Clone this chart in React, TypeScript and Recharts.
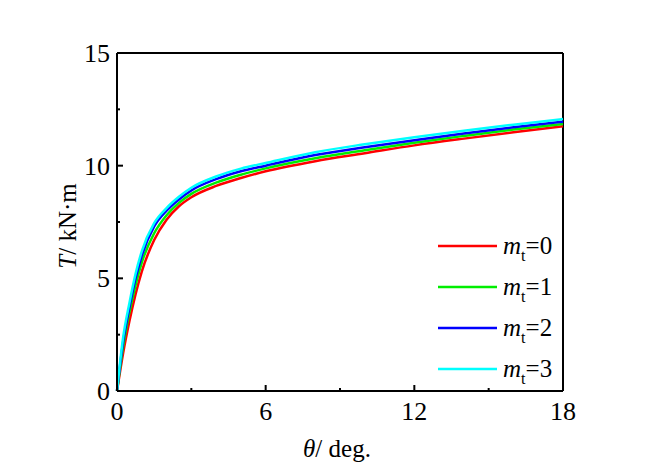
import React from 'react';
import { LineChart, Line, XAxis, YAxis, ReferenceLine, Customized } from 'recharts';

const theta = [0, 0.25, 0.5, 0.75, 1, 1.5, 2, 2.5, 3, 4, 5, 6, 8, 10, 12, 14, 16, 18];
const mt0 = [0, 1.7, 3.1, 4.3, 5.3, 6.7, 7.6, 8.2, 8.6, 9.1, 9.45, 9.75, 10.2, 10.55, 10.9, 11.2, 11.48, 11.75];
const mt1 = [0, 2.0, 3.5, 4.7, 5.7, 7.0, 7.8, 8.35, 8.75, 9.25, 9.6, 9.88, 10.33, 10.68, 11.02, 11.32, 11.6, 11.85];
const mt2 = [0, 2.2, 3.7, 5.0, 6.0, 7.3, 8.0, 8.5, 8.9, 9.4, 9.75, 10.0, 10.47, 10.82, 11.13, 11.43, 11.7, 11.95];
const mt3 = [0, 2.4, 3.9, 5.2, 6.2, 7.45, 8.12, 8.62, 9.02, 9.52, 9.87, 10.12, 10.6, 10.95, 11.26, 11.55, 11.82, 12.07];

const xTicks = [0, 3, 6, 9, 12, 15, 18];
const xLabelTicks = [0, 6, 12, 18];
const yTicks = [0, 2.5, 5, 7.5, 10, 12.5, 15];
const yLabelTicks = [0, 5, 10, 15];

const seriesNames = ['0', '1', '2', '3'];
const seriesKeys = ['mt0', 'mt1', 'mt2', 'mt3'];
const seriesColors = ['#ff0000', '#00ee00', '#0000ff', '#00ffff'];

const data = theta.map((t, i) => ({ theta: t, mt0: mt0[i], mt1: mt1[i], mt2: mt2[i], mt3: mt3[i] }));

const FONT = "'Liberation Serif', 'Times New Roman', serif";
const txt = { fontFamily: FONT };

const XTick = (props: any) => {
  const { x, y, payload } = props;
  const v = payload.value;
  const major = xLabelTicks.includes(v);
  return (
    <g>
      <line x1={x} y1={y} x2={x} y2={y - (major ? 6 : 3)} stroke="#000" strokeWidth={2} />
      {major && (
        <text x={x} y={y + 29} textAnchor="middle" style={txt} fontSize={26} fill="#000">
          {v}
        </text>
      )}
    </g>
  );
};

const YTick = (props: any) => {
  const { x, y, payload } = props;
  const v = payload.value;
  const major = yLabelTicks.includes(v);
  return (
    <g>
      <line x1={x} y1={y} x2={x + (major ? 6 : 3)} y2={y} stroke="#000" strokeWidth={2} />
      {major && (
        <text x={x - 7} y={y + 9} textAnchor="end" style={txt} fontSize={26} fill="#000">
          {v}
        </text>
      )}
    </g>
  );
};

const XTitle = (props: any) => {
  const vb = props.viewBox || {};
  return (
    <text x={vb.x + vb.width / 2 - 3} y={vb.y + 66} textAnchor="middle" style={txt} fontSize={25} fill="#000">
      <tspan fontStyle="italic">θ</tspan>
      <tspan>/ deg.</tspan>
    </text>
  );
};

const YTitle = (props: any) => {
  const vb = props.viewBox || {};
  const cx = 76;
  const cy = vb.y + vb.height / 2 + 4;
  return (
    <text x={cx} y={cy} transform={`rotate(-90 ${cx} ${cy})`} textAnchor="middle" style={txt} fontSize={25} fill="#000">
      <tspan fontStyle="italic">T</tspan>
      <tspan>/ kN·m</tspan>
    </text>
  );
};

const LegendSvg = () => (
  <g>
    {seriesNames.map((n, i) => {
      const y = 246 + i * 41;
      return (
        <g key={n}>
          <line x1={438} y1={y} x2={497} y2={y} stroke={seriesColors[i]} strokeWidth={2.5} />
          <text x={503} y={y + 8} style={txt} fontSize={25} fill="#000">
            <tspan fontStyle="italic">m</tspan>
            <tspan dy={7} fontSize={16}>t</tspan>
            <tspan dy={-7}>={n}</tspan>
          </text>
        </g>
      );
    })}
  </g>
);

export default function App() {
  return (
    <div style={{ position: 'absolute', left: 0, top: 0, width: 656, height: 470, background: '#fff' }}>
      <LineChart width={656} height={470} data={data} margin={{ top: 53, right: 93, bottom: 9, left: 57 }}>
        <XAxis
          dataKey="theta"
          type="number"
          domain={[0, 18]}
          ticks={xTicks}
          interval={0}
          tickSize={0}
          tickMargin={0}
          tickLine={false}
          tick={<XTick />}
          axisLine={{ stroke: '#000', strokeWidth: 2 }}
          height={70}
          label={<XTitle />}
        />
        <YAxis
          type="number"
          domain={[0, 15]}
          ticks={yTicks}
          interval={0}
          tickSize={0}
          tickMargin={0}
          tickLine={false}
          tick={<YTick />}
          axisLine={{ stroke: '#000', strokeWidth: 2 }}
          width={60}
          label={<YTitle />}
        />
        <ReferenceLine y={15} stroke="#000" strokeWidth={2} />
        <ReferenceLine x={18} stroke="#000" strokeWidth={2} />
        {seriesKeys.map((k, i) => (
          <Line
            key={k}
            dataKey={k}
            type="monotone"
            stroke={seriesColors[i]}
            strokeWidth={2.5}
            dot={false}
            isAnimationActive={false}
          />
        ))}
        <Customized component={LegendSvg} />
      </LineChart>
    </div>
  );
}
